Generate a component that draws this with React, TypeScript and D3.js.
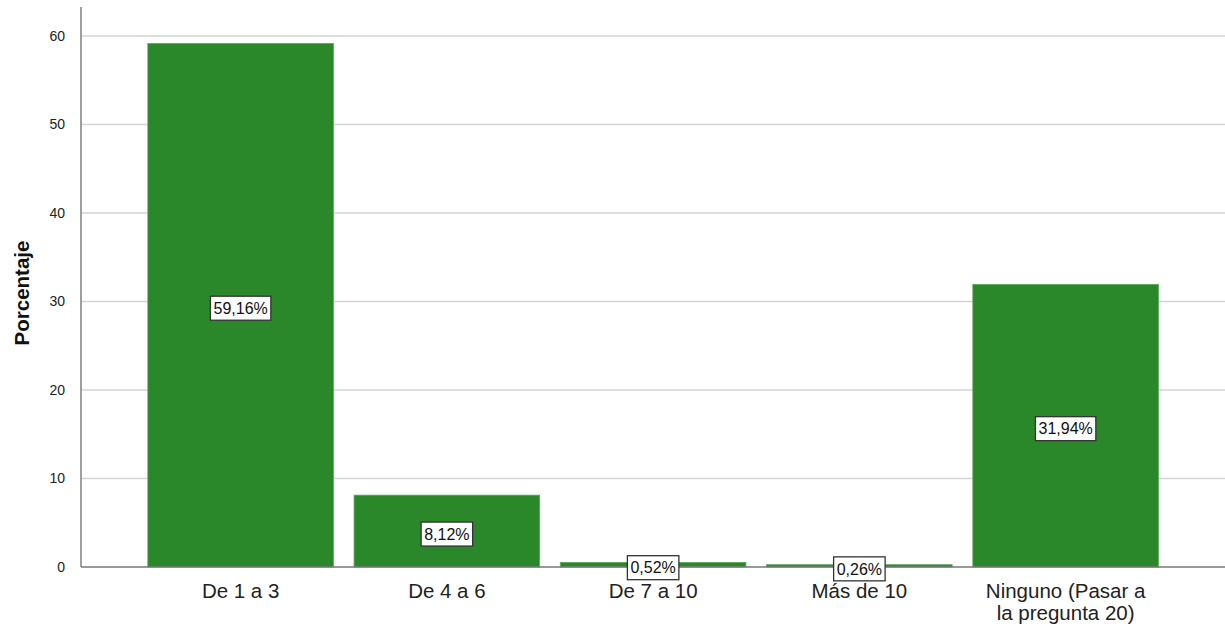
import React from "react";
import * as d3 from "d3";

const categories: string[][] = [
  ["De 1 a 3"],
  ["De 4 a 6"],
  ["De 7 a 10"],
  ["Más de 10"],
  ["Ninguno (Pasar a", "la pregunta 20)"],
];
const values: number[] = [59.16, 8.12, 0.52, 0.26, 31.94];
const valueLabels: string[] = ["59,16%", "8,12%", "0,52%", "0,26%", "31,94%"];
const yTicks: number[] = [0, 10, 20, 30, 40, 50, 60];
const yTitle = "Porcentaje";

const W = 1225;
const H = 627;
const FONT = "Arial, 'Liberation Sans', sans-serif";

export default function App() {
  const axisX = 81;
  const y = d3.scaleLinear().domain([0, 60]).range([567, 36]);
  const x = d3
    .scaleBand<number>()
    .domain(values.map((_, i) => i))
    .range([137.5, 1168.75])
    .paddingInner(0.1)
    .paddingOuter(0.05);

  return (
    <svg
      width={W}
      height={H}
      style={{ position: "absolute", left: 0, top: 0, background: "#fff" }}
      fontFamily={FONT}
    >
      <rect x={0} y={0} width={W} height={H} fill="#fff" />
      {yTicks.map((t) => (
        <g key={t}>
          {t > 0 && (
            <line
              x1={axisX}
              x2={W}
              y1={y(t)}
              y2={y(t)}
              stroke="#d3d3d3"
              strokeWidth={1.6}
            />
          )}
          <text
            x={65}
            y={y(t)}
            dy="0.35em"
            textAnchor="end"
            fontSize={14}
            fill="#222"
          >
            {t}
          </text>
        </g>
      ))}
      {values.map((v, i) => (
        <rect
          key={i}
          x={x(i)!}
          y={y(v)}
          width={x.bandwidth()}
          height={y(0) - y(v)}
          fill="#2a872a"
          stroke="#5da85d"
          strokeWidth={0.8}
        />
      ))}
      <line x1={axisX} x2={W} y1={y(0)} y2={y(0)} stroke="#777" strokeWidth={1.4} />
      <line x1={axisX} x2={axisX} y1={7} y2={y(0)} stroke="#888" strokeWidth={1.6} />
      {values.map((v, i) => {
        const cx = x(i)! + x.bandwidth() / 2;
        const cy = (y(v) + y(0)) / 2 + 3;
        const label = valueLabels[i];
        const w = label.length * 8.9 + 7;
        const h = 24;
        return (
          <g key={"l" + i}>
            <rect
              x={cx - w / 2}
              y={cy - h / 2}
              width={w}
              height={h}
              fill="#fff"
              stroke="#333"
              strokeWidth={1.3}
            />
            <text
              x={cx}
              y={cy}
              dy="0.36em"
              textAnchor="middle"
              fontSize={16}
              fill="#111"
            >
              {label}
            </text>
          </g>
        );
      })}
      {categories.map((lines, i) => {
        const cx = x(i)! + x.bandwidth() / 2;
        return (
          <text
            key={"c" + i}
            x={cx}
            y={591}
            textAnchor="middle"
            fontSize={20.5}
            fill="#222"
          >
            {lines.map((ln, j) => (
              <tspan key={j} x={cx} y={591 + j * 22} dy="0.33em">
                {ln}
              </tspan>
            ))}
          </text>
        );
      })}
      <text
        transform={`translate(22,${293}) rotate(-90)`}
        textAnchor="middle"
        dy="0.35em"
        fontSize={20.5}
        fontWeight="bold"
        fill="#111"
      >
        {yTitle}
      </text>
    </svg>
  );
}
